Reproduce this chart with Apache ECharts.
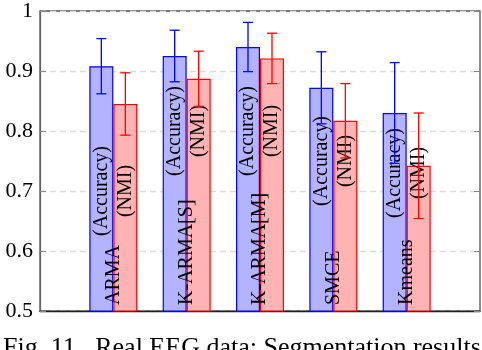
<!DOCTYPE html>
<html>
<head>
<meta charset="utf-8">
<script src="https://cdn.jsdelivr.net/npm/echarts@6/dist/echarts.min.js"></script>
<style>
html,body{margin:0;padding:0;background:#fff;overflow:hidden;}
#chart{width:482px;height:350px;}
</style>
</head>
<body>
<div id="chart"></div>
<script>
const categories = ['ARMA', 'K-ARMA[S]', 'K-ARMA[M]', 'SMCE', 'Kmeans'];
const accuracy = [0.908, 0.925, 0.940, 0.872, 0.830];
const accuracyErr = [0.046, 0.043, 0.041, 0.060, 0.084];
const nmi = [0.845, 0.887, 0.921, 0.817, 0.742];
const nmiErr = [0.052, 0.046, 0.042, 0.062, 0.088];
const metricNames = ['(Accuracy)', '(NMI)'];
const metricLabelY = [0.70, 0.80, 0.80, 0.75, 0.73];
const categoryLabelY = 0.51;
const yMin = 0.5, yMax = 1, yStep = 0.1;
const caption = 'Fig. 11.  Real EEG data: Segmentation results';

const FONT = '"Liberation Serif", "Times New Roman", serif';
const BLUE = '#0000ff', BLUE_FILL = '#b3b3ff';
const RED = '#ff0000', RED_FILL = '#ffb3b3';
const HALF = 12;

const xData = [''].concat(categories, ['']);
const pad = arr => ['-'].concat(arr, ['-']);

function errData(vals, errs) {
  return vals.map((v, i) => [i + 1, v, errs[i]]);
}

function errSeries(vals, errs, color, side) {
  return {
    type: 'custom',
    z: 5,
    data: errData(vals, errs),
    renderItem: function (params, api) {
      const xi = api.value(0), v = api.value(1), e = api.value(2);
      const top = api.coord([xi, v + e]);
      const bot = api.coord([xi, v - e]);
      const x = top[0] + side * HALF;
      const st = { stroke: color, lineWidth: 1.3 };
      return {
        type: 'group',
        children: [
          { type: 'line', shape: { x1: x, y1: top[1], x2: x, y2: bot[1] }, style: st },
          { type: 'line', shape: { x1: x - 5, y1: top[1], x2: x + 5, y2: top[1] }, style: st },
          { type: 'line', shape: { x1: x - 5, y1: bot[1], x2: x + 5, y2: bot[1] }, style: st }
        ]
      };
    }
  };
}

const chart = echarts.init(document.getElementById('chart'), null, { renderer: 'canvas' });
chart.setOption({
  animation: false,
  backgroundColor: '#fff',
  grid: { left: 40, right: 2, top: 8, bottom: 39, show: true, borderColor: '#555', borderWidth: 1.3, backgroundColor: 'transparent' },
  xAxis: {
    type: 'category',
    data: xData,
    boundaryGap: false,
    axisLine: { show: true, lineStyle: { color: '#222', width: 1.3 } },
    axisTick: { show: false },
    axisLabel: { show: false },
    splitLine: { show: false }
  },
  yAxis: [
    {
      type: 'value',
      min: yMin, max: yMax, interval: yStep,
      axisLine: { show: true, lineStyle: { color: '#666', width: 1.3 } },
      axisTick: { show: true, inside: true, length: 6, lineStyle: { color: '#888', width: 1 } },
      axisLabel: {
        color: '#000', fontFamily: FONT, fontSize: 22, margin: 7,
        formatter: v => (Math.abs(v - 1) < 1e-9 ? '1' : v.toFixed(1))
      },
      splitLine: { show: true, lineStyle: { color: '#dcdcdc', type: [6, 4], width: 1.3 } }
    },
    {
      type: 'value', position: 'right',
      min: yMin, max: yMax, interval: yStep,
      axisLine: { show: false },
      axisTick: { show: true, inside: true, length: 6, lineStyle: { color: '#888', width: 1 } },
      axisLabel: { show: false },
      splitLine: { show: false }
    }
  ],
  series: [
    {
      type: 'bar', name: metricNames[0], data: pad(accuracy), barWidth: 24, barGap: '0%',
      itemStyle: { color: BLUE_FILL, borderColor: BLUE, borderWidth: 1.2 }, z: 2
    },
    {
      type: 'bar', name: metricNames[1], data: pad(nmi), barWidth: 24, barGap: '0%',
      itemStyle: { color: RED_FILL, borderColor: RED, borderWidth: 1.2 }, z: 2
    },
    {
      type: 'custom', z: 4,
      data: metricLabelY.map((y, i) => [i + 1, y]),
      renderItem: function (params, api) {
        const c = api.coord([api.value(0), api.value(1)]);
        const mk = (text, dx) => ({
          type: 'text', x: c[0] + dx, y: c[1], rotation: Math.PI / 2,
          style: { text: text, font: '20px ' + FONT, fill: '#000', textAlign: 'center', textVerticalAlign: 'middle' }
        });
        return { type: 'group', children: [mk(metricNames[0], -HALF), mk(metricNames[1], HALF)] };
      }
    },
    {
      type: 'custom', z: 4,
      data: categories.map((c, i) => [i + 1, categoryLabelY]),
      renderItem: function (params, api) {
        const c = api.coord([api.value(0), api.value(1)]);
        return {
          type: 'text', x: c[0], y: c[1], rotation: Math.PI / 2,
          style: { text: categories[params.dataIndex], font: '20px ' + FONT, fill: '#000', textAlign: 'left', textVerticalAlign: 'middle' }
        };
      }
    },
    errSeries(accuracy, accuracyErr, BLUE, -1),
    errSeries(nmi, nmiErr, RED, 1)
  ],
  graphic: [
    { type: 'text', left: 3, top: 335, style: { text: caption, font: '26px ' + FONT, fill: '#000' } }
  ]
});
</script>
</body>
</html>
